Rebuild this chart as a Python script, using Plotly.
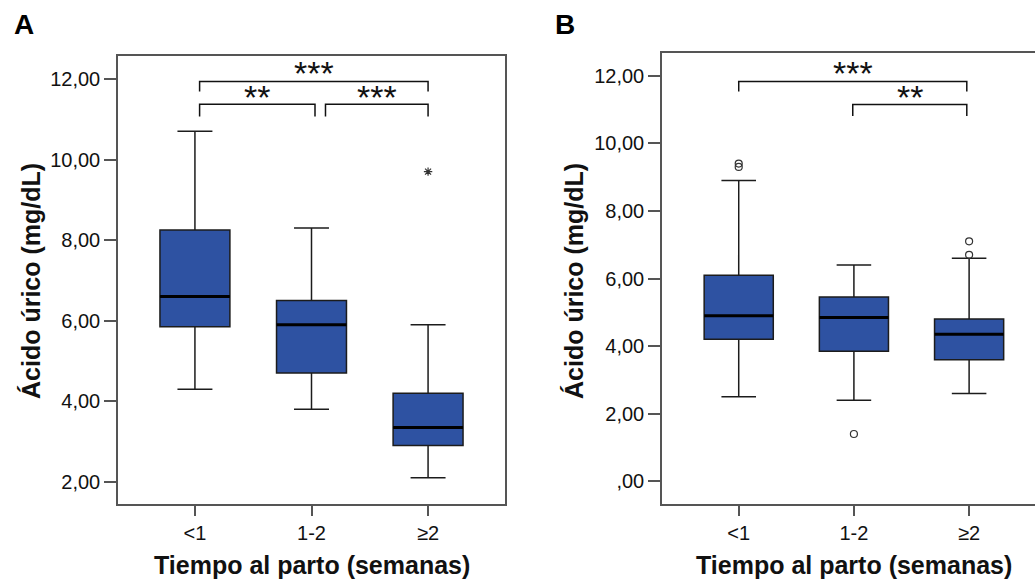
import plotly.graph_objects as go

categories = ["<1", "1-2", "≥2"]

# Panel A
a_q1 = [5.85, 4.70, 2.90]
a_median = [6.60, 5.90, 3.35]
a_q3 = [8.25, 6.50, 4.20]
a_low = [4.30, 3.80, 2.10]
a_high = [10.70, 8.30, 5.90]
a_extreme_x = [2]
a_extreme_y = [9.70]

# Panel B
b_q1 = [4.20, 3.85, 3.60]
b_median = [4.90, 4.85, 4.35]
b_q3 = [6.10, 5.45, 4.80]
b_low = [2.50, 2.40, 2.60]
b_high = [8.90, 6.40, 6.60]
b_out_x = [0, 0, 1, 2, 2]
b_out_y = [9.30, 9.40, 1.40, 6.70, 7.10]

FILL = "#2E52A2"
LINE = "#1c1c1c"
FRAME = "#555555"
FONT = "Liberation Sans, Arial, sans-serif"
BW = 0.6
W, H = 1035, 581

fig = go.Figure()
pos = list(range(len(categories)))

def add_panel(xa, ya, q1, med, q3, lo, hi):
    fig.add_trace(go.Box(
        x=pos, q1=q1, median=med, q3=q3, lowerfence=lo, upperfence=hi,
        width=BW, whiskerwidth=0.5, fillcolor=FILL,
        line=dict(color=LINE, width=1.5), boxpoints=False,
        xaxis=xa, yaxis=ya, showlegend=False, hoverinfo="skip"))
    for i, m in enumerate(med):
        fig.add_trace(go.Scatter(
            x=[pos[i] - BW / 2, pos[i] + BW / 2], y=[m, m], mode="lines",
            line=dict(color="#000000", width=3), xaxis=xa, yaxis=ya,
            showlegend=False, hoverinfo="skip"))

add_panel("x", "y", a_q1, a_median, a_q3, a_low, a_high)
add_panel("x2", "y2", b_q1, b_median, b_q3, b_low, b_high)

fig.add_trace(go.Scatter(
    x=a_extreme_x, y=a_extreme_y, mode="markers",
    marker=dict(symbol="asterisk-open", size=7, color="#333333",
                line=dict(color="#333333", width=1.2)),
    xaxis="x", yaxis="y", showlegend=False, hoverinfo="skip"))
fig.add_trace(go.Scatter(
    x=b_out_x, y=b_out_y, mode="markers",
    marker=dict(symbol="circle-open", size=7, color="#333333", line=dict(color="#333333", width=1.2)),
    xaxis="x2", yaxis="y2", showlegend=False, hoverinfo="skip"))

# significance brackets: (x0, x1, y_bar, y_tip, label, y_label)
brackets_a = [
    (0.04, 2.0, 11.94, 11.69, "***", 12.16),
    (0.04, 1.03, 11.37, 11.07, "**", 11.55),
    (1.12, 2.0, 11.37, 11.07, "***", 11.55),
]
brackets_b = [
    (0.0, 1.98, 11.83, 11.53, "***", 12.07),
    (0.99, 1.98, 11.15, 10.81, "**", 11.36),
]

anns = []
shapes = []
for (brs, xr, yr) in [(brackets_a, "x", "y"), (brackets_b, "x2", "y2")]:
    for x0, x1, yb, yt, lab, yl in brs:
        shapes.append(dict(type="path", xref=xr, yref=yr,
                           path=f"M {x0},{yt} L {x0},{yb} L {x1},{yb} L {x1},{yt}",
                           line=dict(color="#111111", width=1.5)))
        anns.append(dict(x=(x0 + x1) / 2, y=yl, xref=xr, yref=yr, text=lab,
                         showarrow=False, font=dict(family=FONT, size=34, color="#111111"),
                         yanchor="middle"))

# panel letters
anns.append(dict(x=24 / W, y=1 - 24 / H, xref="paper", yref="paper", text="<b>A</b>",
                 showarrow=False, font=dict(family=FONT, size=28, color="#000"),
                 xanchor="center", yanchor="middle"))
anns.append(dict(x=565 / W, y=1 - 24 / H, xref="paper", yref="paper", text="<b>B</b>",
                 showarrow=False, font=dict(family=FONT, size=28, color="#000"),
                 xanchor="center", yanchor="middle"))
# axis titles
for xc in [312 / W, 854 / W]:
    anns.append(dict(x=xc, y=1 - 565 / H, xref="paper", yref="paper",
                     text="<b>Tiempo al parto (semanas)</b>", showarrow=False,
                     font=dict(family=FONT, size=25, color="#111"),
                     xanchor="center", yanchor="middle"))
for xc in [31 / W, 574 / W]:
    anns.append(dict(x=xc, y=1 - 281 / H, xref="paper", yref="paper",
                     text="<b>Ácido úrico (mg/dL)</b>", showarrow=False, textangle=-90,
                     font=dict(family=FONT, size=25, color="#111"),
                     xanchor="center", yanchor="middle"))

tickfont = dict(family=FONT, size=20, color="#111")
common_x = dict(tickmode="array", tickvals=pos, ticktext=categories, ticks="outside",
                ticklen=10, tickcolor=FRAME, tickwidth=1.5, showgrid=False, zeroline=False,
                showline=True, linecolor=FRAME, linewidth=1.5, tickfont=tickfont)
common_y = dict(ticks="outside", ticklen=12, tickcolor=FRAME, tickwidth=1.5, showgrid=False,
                zeroline=False, showline=True, linecolor=FRAME, linewidth=1.5,
                tickfont=tickfont, tickmode="array")

fig.update_layout(
    width=W, height=H, margin=dict(l=0, r=0, t=0, b=0),
    paper_bgcolor="white", plot_bgcolor="white",
    xaxis=dict(common_x, domain=[118 / W, 505 / W], range=[-0.66, 2.66], mirror=True, anchor="y"),
    yaxis=dict(common_y, domain=[1 - 504 / H, 1 - 56 / H], range=[1.45, 12.57], mirror=True,
               tickvals=[2, 4, 6, 8, 10, 12],
               ticktext=["2,00", "4,00", "6,00", "8,00", "10,00", "12,00"], anchor="x"),
    xaxis2=dict(common_x, domain=[662 / W, 1.0], range=[-0.666, 2.572], mirror=True, anchor="y2"),
    yaxis2=dict(common_y, domain=[1 - 504 / H, 1 - 52.7 / H], range=[-0.67, 12.68], mirror=False,
                tickvals=[0, 2, 4, 6, 8, 10, 12],
                ticktext=[",00", "2,00", "4,00", "6,00", "8,00", "10,00", "12,00"], anchor="x2"),
    shapes=shapes, annotations=anns,
)

fig.write_html("out.html")
